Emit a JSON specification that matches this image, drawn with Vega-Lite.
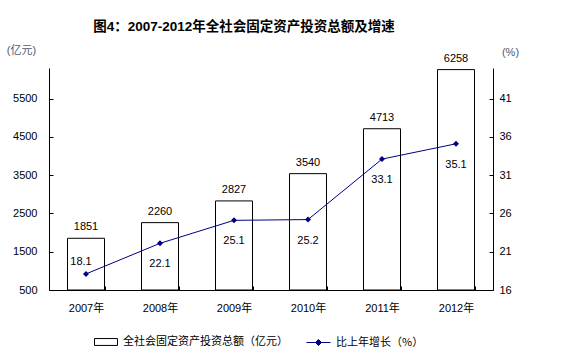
{
  "$schema": "https://vega.github.io/schema/vega-lite/v6.json",
  "width": 444,
  "height": 222,
  "autosize": {"type": "none"},
  "padding": {"left": 49, "top": 68, "right": 87, "bottom": 65},
  "background": "white",
  "title": {
    "text": "图4：2007-2012年全社会固定资产投资总额及增速",
    "font": "'Liberation Sans','Noto Sans CJK SC'",
    "fontSize": 13.5,
    "fontWeight": "bold",
    "color": "black",
    "anchor": "middle",
    "frame": "group",
    "dx": -27,
    "offset": 11
  },
  "config": {
    "view": {"stroke": null},
    "font": "'Liberation Sans','Noto Sans CJK SC'",
    "axis": {"grid": false, "domainColor": "black", "tickColor": "black", "labelColor": "black", "labelFontSize": 11, "labelFont": "'Liberation Sans','Noto Sans CJK SC'"}
  },
  "data": {
    "values": [
      {"year": "2007年", "total": 1851, "growth": 18.1},
      {"year": "2008年", "total": 2260, "growth": 22.1},
      {"year": "2009年", "total": 2827, "growth": 25.1},
      {"year": "2010年", "total": 3540, "growth": 25.2},
      {"year": "2011年", "total": 4713, "growth": 33.1},
      {"year": "2012年", "total": 6258, "growth": 35.1}
    ]
  },
  "encoding": {
    "x": {
      "field": "year",
      "type": "nominal",
      "sort": null,
      "scale": {"paddingInner": 0.5, "paddingOuter": 0.25},
      "axis": {"title": null, "labelAngle": 0, "tickBand": "extent", "tickSize": -4, "labelPadding": 16, "domainColor": "black"}
    }
  },
  "layer": [
    {
      "encoding": {
        "y": {
          "field": "total",
          "type": "quantitative",
          "scale": {"domain": [500, 6300], "zero": false, "nice": false},
          "axis": {
            "values": [500, 1500, 2500, 3500, 4500, 5500],
            "format": "d",
            "tickSize": -4,
            "labelPadding": 16,
            "title": "(亿元)",
            "titleAngle": 0,
            "titleX": -28,
            "titleY": -18,
            "titleAlign": "center",
            "titleBaseline": "middle",
            "titleFontSize": 11,
            "titleFontWeight": "normal",
            "titleColor": "#4d5a70"
          }
        }
      },
      "layer": [
        {
          "mark": {"type": "bar", "fill": "white", "strokeWidth": 1},
          "encoding": {
            "y2": {"datum": 500},
            "stroke": {
              "datum": "全社会固定资产投资总额（亿元）",
              "type": "nominal",
              "scale": {"range": ["black"]},
              "legend": {
                "title": null,
                "orient": "none",
                "legendX": 45,
                "legendY": 262,
                "labelFontSize": 11,
                "labelColor": "black",
                "labelFont": "'Noto Sans CJK SC'",
                "labelOffset": 5,
                "labelLimit": 300,
                "symbolType": "M-1,-0.3H1V0.3H-1Z",
                "symbolSize": 529,
                "symbolFillColor": "white",
                "symbolStrokeColor": "black",
                "symbolStrokeWidth": 1
              }
            }
          }
        },
        {
          "mark": {"type": "text", "dy": -11, "fontSize": 11, "color": "black", "font": "'Liberation Sans'"},
          "encoding": {"text": {"field": "total", "type": "quantitative", "format": "d"}}
        }
      ]
    },
    {
      "encoding": {
        "y": {
          "field": "growth",
          "type": "quantitative",
          "scale": {"domain": [16, 45], "zero": false, "nice": false},
          "axis": {
            "orient": "right",
            "values": [16, 21, 26, 31, 36, 41],
            "tickSize": -4,
            "labelPadding": 10,
            "title": "(%)",
            "titleAngle": 0,
            "titleX": 17,
            "titleY": -16,
            "titleAlign": "center",
            "titleBaseline": "middle",
            "titleFontSize": 11,
            "titleFontWeight": "normal",
            "titleColor": "#4d5a70"
          }
        }
      },
      "layer": [
        {
          "mark": {"type": "line", "strokeWidth": 1},
          "encoding": {
            "stroke": {
              "datum": "比上年增长（%）",
              "type": "nominal",
              "scale": {"range": ["#000080"]},
              "legend": {
                "title": null,
                "orient": "none",
                "legendX": 257,
                "legendY": 262,
                "labelFontSize": 11,
                "labelColor": "black",
                "labelFont": "'Noto Sans CJK SC'",
                "labelOffset": 5,
                "labelLimit": 300,
                "symbolType": "M-1,0H1M0,-0.25L0.25,0L0,0.25L-0.25,0Z",
                "symbolSize": 576,
                "symbolFillColor": "#000080",
                "symbolStrokeColor": "#000080",
                "symbolStrokeWidth": 1
              }
            }
          }
        },
        {
          "mark": {"type": "point", "shape": "diamond", "filled": true, "size": 36, "color": "#000080", "opacity": 1}
        },
        {
          "transform": [{"filter": "datum.year !== '2007年'"}],
          "mark": {"type": "text", "dy": 21, "fontSize": 11, "color": "black", "font": "'Liberation Sans'"},
          "encoding": {"text": {"field": "growth", "type": "quantitative", "format": ".1f"}}
        },
        {
          "transform": [{"filter": "datum.year === '2007年'"}],
          "mark": {"type": "text", "dy": -12, "dx": -5, "fontSize": 11, "color": "black", "font": "'Liberation Sans'"},
          "encoding": {"text": {"field": "growth", "type": "quantitative", "format": ".1f"}}
        }
      ]
    }
  ],
  "resolve": {"scale": {"y": "independent", "stroke": "independent"}, "legend": {"stroke": "independent"}}
}
